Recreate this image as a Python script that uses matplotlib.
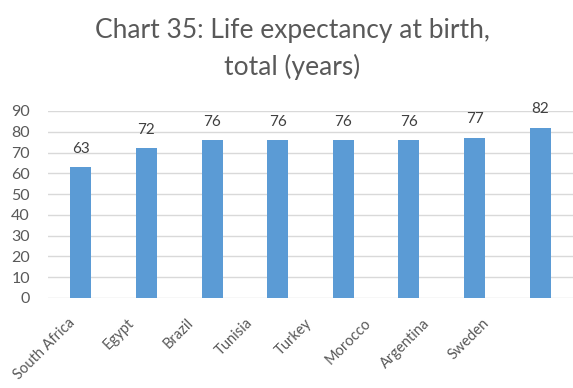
import matplotlib
matplotlib.use("Agg")
import matplotlib.pyplot as plt
import numpy as np

countries = ["South Africa", "Egypt", "Brazil", "Tunisia", "Turkey",
             "Morocco", "Argentina", "Sweden"]
life_exp = [63, 72, 76, 76, 76, 76, 77, 82]
yticks = list(range(0, 91, 10))
title_lines = ["Chart 35: Life expectancy at birth,", "total (years)"]

plt.rcParams["font.family"] = ["Lato", "DejaVu Sans"]
GREY = "#595959"
W, H = 573, 388

fig = plt.figure(figsize=(W / 100, H / 100), dpi=100)
ax = fig.add_axes([48 / W, 0.232, 1 - 48 / W, 0.482])

x = np.arange(len(countries))
ax.bar(x, life_exp, width=0.32, color="#5b9bd5", zorder=3)
for xi, v in zip(x, life_exp):
    ax.text(xi, v + 7, f"{v}", ha="center", va="baseline",
            fontsize=11, color="#404040")

ax.set_xlim(-0.5, len(countries) - 0.5)
ax.set_ylim(0, 90)
ax.set_yticks(yticks)
ax.set_yticklabels([str(t) for t in yticks], fontsize=11.5, color=GREY)
ax.tick_params(axis="y", length=0, pad=13)
ax.grid(axis="y", color="#d9d9d9", linewidth=1, zorder=0)
ax.set_xticks([])
for s in ax.spines.values():
    s.set_visible(False)

# category labels sit on a narrower strip than the plot area
lab = fig.add_axes([48 / W, 0.232, 474 / W, 0.482])
lab.set_xlim(-0.5, len(countries) - 0.5)
lab.set_xticks(x)
lab.set_xticklabels(countries, rotation=45, ha="right", va="top",
                    fontsize=10.5, color=GREY)
lab.tick_params(axis="x", length=0, pad=13)
lab.set_yticks([])
lab.patch.set_visible(False)
for s in lab.spines.values():
    s.set_visible(False)

for i, line in enumerate(title_lines):
    fig.text(292 / W, 1 - (38 + 37 * i) / H, line, ha="center", va="baseline",
             fontsize=19, color=GREY)

fig.savefig("out.png", dpi=100)
